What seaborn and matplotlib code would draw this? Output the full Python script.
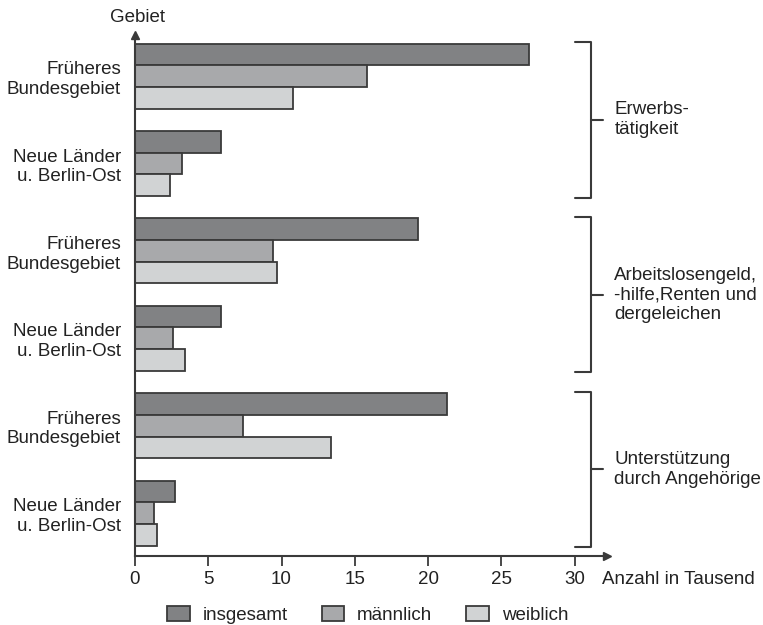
import pandas as pd
import matplotlib.pyplot as plt
import seaborn as sns

# data (Anzahl in Tausend)
gruppen = ["Erwerb West", "Erwerb Ost", "Arbeitslos West", "Arbeitslos Ost",
           "Angehoerige West", "Angehoerige Ost"]
gebiet_labels = ["Früheres\nBundesgebiet", "Neue Länder\nu. Berlin-Ost"] * 3
insgesamt = [26.9, 5.9, 19.3, 5.9, 21.3, 2.7]
maennlich = [15.8, 3.2, 9.4, 2.6, 7.4, 1.3]
weiblich = [10.8, 2.4, 9.7, 3.4, 13.4, 1.5]
serien = ["insgesamt", "männlich", "weiblich"]
kategorien = ["Erwerbs-\ntätigkeit",
              "Arbeitslosengeld,\n-hilfe,Renten und\ndergeleichen",
              "Unterstützung\ndurch Angehörige"]
x_ticks = [0, 5, 10, 15, 20, 25, 30]

df = pd.DataFrame({
    "Gruppe": gruppen * 3,
    "Wert": insgesamt + maennlich + weiblich,
    "Serie": [s for s in serien for _ in gruppen],
})

farben = {"insgesamt": "#808285", "männlich": "#a7a9ac", "weiblich": "#d1d3d4"}
text_col = "#222222"
line_col = "#3a3a3a"
fs = 13.5

sns.set_style("ticks")
plt.rcParams["font.family"] = ["Liberation Sans", "DejaVu Sans"]

fig = plt.figure(figsize=(7.63, 6.25), dpi=100)
ax = fig.add_axes([0.1769, 0.1104, 0.6186, 0.8336])

sns.barplot(data=df, x="Wert", y="Gruppe", hue="Serie", order=gruppen,
            hue_order=serien, palette=farben, width=0.745,
            edgecolor=line_col, linewidth=1.3, ax=ax)

ax.set_xlim(0, 32.2)
ax.set_ylim(5.49, -0.47)
ax.set_xticks(x_ticks)
ax.set_xticklabels([str(t) for t in x_ticks], fontsize=fs, color=text_col)
ax.set_yticks(range(len(gruppen)))
ax.set_yticklabels(gebiet_labels, fontsize=fs, color=text_col)
ax.tick_params(axis="y", length=0, pad=10)
ax.tick_params(axis="x", length=7, width=1.3, color=line_col, pad=4)
ax.set_xlabel("")
ax.set_ylabel("")

sns.despine(ax=ax)
for side in ["left", "bottom"]:
    ax.spines[side].set_color(line_col)
    ax.spines[side].set_linewidth(1.5)

# arrow heads on both axes
ax.plot(1, 0, ">", color=line_col, markersize=6, transform=ax.transAxes, clip_on=False)
ax.plot(0, 1, "^", color=line_col, markersize=6, transform=ax.transAxes, clip_on=False)

ax.text(0.005, 1.018, "Gebiet", transform=ax.transAxes, ha="center", va="bottom",
        fontsize=fs, color=text_col)
ax.text(0.99, -0.045, "Anzahl in Tausend", transform=ax.transAxes, ha="left",
        va="center", fontsize=fs, color=text_col)

# brackets on the right
for i, name in enumerate(kategorien):
    top = 2 * i - 0.39
    bottom = 2 * i + 1.39
    mid = (top + bottom) / 2
    ax.plot([30.0, 31.1, 31.1, 30.0], [top, top, bottom, bottom],
            color=line_col, lw=1.5, clip_on=False)
    ax.plot([31.1, 31.9], [mid, mid], color=line_col, lw=1.5, clip_on=False)
    ax.text(32.7, mid, name, ha="left", va="center", fontsize=fs,
            color=text_col, clip_on=False, linespacing=1.2)

sns.move_legend(ax, "center", bbox_to_anchor=(0.482, 0.016),
                bbox_transform=fig.transFigure, ncol=3, frameon=False,
                title=None, fontsize=fs, handlelength=1.2, handleheight=0.85,
                handletextpad=0.7, columnspacing=1.8)
for t in ax.get_legend().get_texts():
    t.set_color(text_col)

fig.savefig("out.png", dpi=100)
